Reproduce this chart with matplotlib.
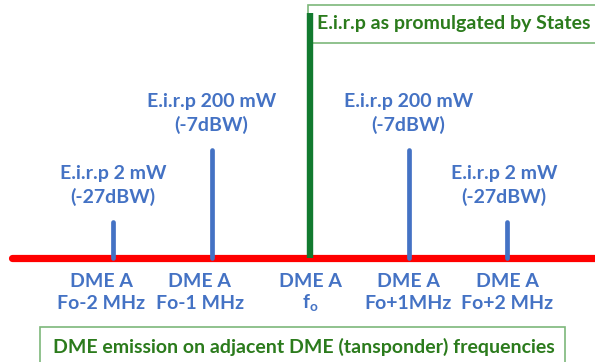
import matplotlib.pyplot as plt
from matplotlib.patches import Rectangle

# channel offsets relative to the wanted DME frequency
channels = [-2, -1, 0, 1, 2]
channel_labels = ['Fo-2 MHz', 'Fo-1 MHz', 'f$_\\mathregular{o}$', 'Fo+1MHz', 'Fo+2 MHz']
eirp_text = ['E.i.r.p 2 mW', 'E.i.r.p 200 mW', None, 'E.i.r.p 200 mW', 'E.i.r.p 2 mW']
eirp_dbw = [-27, -7, None, -7, -27]
wanted_level = 68  # level of the wanted channel, drawn above the scale
floor_dbw = -37     # zero of the vertical scale

BLUE = '#4472C4'
GREEN_BAR = '#127A2F'
GREEN_TEXT = '#2B7B1C'
GREEN_EDGE = '#7DB87A'
RED = '#FF0000'


def do_plot():
    fig = plt.figure(figsize=(5.95, 3.62), dpi=100)
    ax = fig.add_axes([0, 0, 1, 1])
    ax.set_xlim(-3.147, 2.893)
    ax.set_ylim(-28.9, 71.7)
    ax.axis('off')

    font = dict(family='Lato', weight='bold', fontsize=14)

    # frequency axis
    ax.plot([-3.03, 3.2], [0, 0], color=RED, linewidth=5.2, solid_capstyle='round',
            zorder=1, clip_on=False)

    for ch, txt, dbw in zip(channels, eirp_text, eirp_dbw):
        if dbw is None:
            continue
        h = dbw - floor_dbw
        ax.plot([ch, ch], [0, h], color=BLUE, linewidth=3.4, solid_capstyle='round', zorder=2)
        ax.text(ch - 0.03 * (ch > 1), h + 13.4, txt, ha='center', va='center', color=BLUE, **font)
        ax.text(ch - 0.03 * (ch > 1), h + 6.9, '(%ddBW)' % dbw, ha='center', va='center',
                color=BLUE, **font)

    # wanted channel
    ax.plot([0, 0], [0, wanted_level], color=GREEN_BAR, linewidth=4.6, solid_capstyle='butt', zorder=3)
    ax.add_patch(Rectangle((-0.02, 59.7), 3.2, 10.6, facecolor='white', edgecolor=GREEN_EDGE,
                           linewidth=1.2, zorder=2))
    ax.text(0.07, 65.2, 'E.i.r.p as promulgated by States', ha='left', va='center',
            color=GREEN_TEXT, **font)

    for ch, lab in zip(channels, channel_labels):
        dx = -0.12 if ch < 0 else 0
        ax.text(ch + dx, -6.4, 'DME A', ha='center', va='center', color=BLUE, **font)
        ax.text(ch + dx, -12.6, lab, ha='center', va='center', color=BLUE, **font)

    ax.add_patch(Rectangle((-2.74, -32), 5.33, 12.8, facecolor='white', edgecolor=GREEN_EDGE,
                           linewidth=1.2, zorder=2))
    ax.text(-0.06, -24.6, 'DME emission on adjacent DME (tansponder) frequencies', ha='center',
            va='center', color=GREEN_TEXT, **font)

    plt.savefig('out.png', dpi=100)


if __name__ == '__main__':
    do_plot()
